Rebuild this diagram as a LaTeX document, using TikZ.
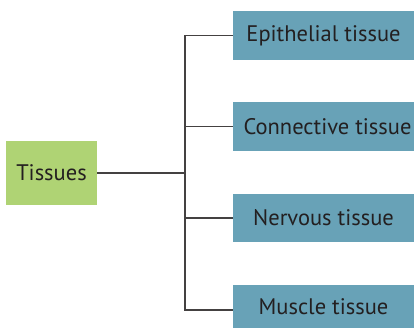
\documentclass[tikz,border=0pt]{standalone}
\usepackage{fontspec}
\setmainfont{PT Sans}
\definecolor{leafgreen}{HTML}{AFD374}
\definecolor{tealblue}{HTML}{68A2B7}
\definecolor{inkdark}{HTML}{231F20}
\begin{document}
\begin{tikzpicture}[x=1pt,y=-1pt,
  rootbox/.style={fill=leafgreen, text=inkdark, inner sep=0pt, font=\fontsize{22.5}{26}\selectfont},
  leafbox/.style={fill=tealblue, text=inkdark, inner sep=0pt, font=\fontsize{22.5}{26}\selectfont},
  link/.style={draw=inkdark!85, line width=1.1pt}]
\useasboundingbox (0,0) rectangle (414,329);
\node[rootbox, minimum width=91pt, minimum height=64pt] (root) at (51.5,173) {Tissues};
\node[leafbox, minimum width=181pt, minimum height=49pt] (epi) at (323.5,35.5) {Epithelial tissue};
\node[leafbox, minimum width=181pt, minimum height=49pt] (con) at (323.5,126.5) {\hspace*{8pt}Connective tissue};
\node[leafbox, minimum width=181pt, minimum height=48pt] (ner) at (323.5,218) {Nervous tissue};
\node[leafbox, minimum width=181pt, minimum height=43pt] (mus) at (323.5,306.5) {Muscle tissue};
\coordinate (hub) at (185,173);
\draw[link] (root.east) -- (hub);
\draw[link] (epi.west) -- (185,35.5) -- (185,310) -- (mus.west |- 0,310);
\draw[link] (con.west) -- (185,126.5);
\draw[link] (ner.west) -- (185,218);
\end{tikzpicture}
\end{document}
